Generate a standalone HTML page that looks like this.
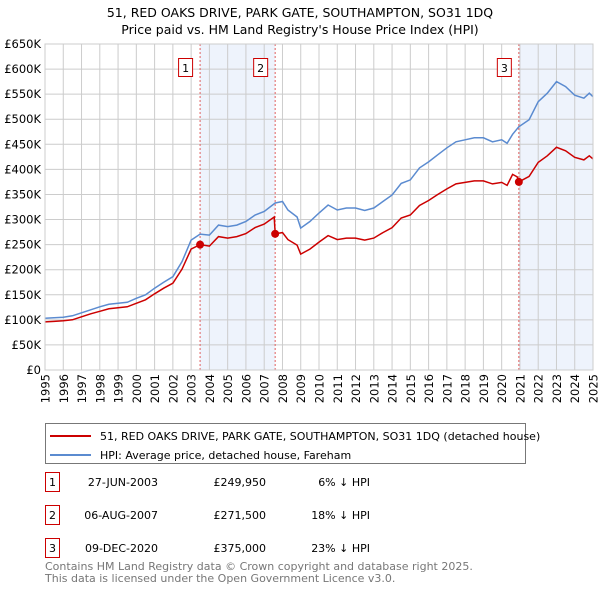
<!DOCTYPE html>
<html><head><meta charset="utf-8"><style>
body{margin:0;background:#fff;font-family:"Liberation Sans","DejaVu Sans",sans-serif;}
svg text{font-family:"DejaVu Sans","Liberation Sans",sans-serif;}
</style></head><body>
<svg id="chart" width="600" height="590" viewBox="0 0 600 590">
<text x="300" y="17" text-anchor="middle" font-size="12.5">51, RED OAKS DRIVE, PARK GATE, SOUTHAMPTON, SO31 1DQ</text>
<text x="300" y="34" text-anchor="middle" font-size="12.5">Price paid vs. HM Land Registry's House Price Index (HPI)</text>
<g id="plot"></g>
<g>
<rect x="45.5" y="423.5" width="480" height="40" fill="#fff" stroke="#777"/>
<line x1="50" y1="436" x2="91" y2="436" stroke="#cc0000" stroke-width="2"/>
<text x="100" y="440" font-size="11">51, RED OAKS DRIVE, PARK GATE, SOUTHAMPTON, SO31 1DQ (detached house)</text>
<line x1="50" y1="455" x2="91" y2="455" stroke="#5b8bd0" stroke-width="2"/>
<text x="100" y="459" font-size="11">HPI: Average price, detached house, Fareham</text>
</g>
<g font-size="11">
<rect x="45.5" y="472.5" width="14" height="19" fill="#fff" stroke="#cc0000"/>
<text x="52.5" y="486" text-anchor="middle">1</text>
<text x="158" y="486" text-anchor="end">27-JUN-2003</text>
<text x="266" y="486" text-anchor="end">£249,950</text>
<text x="370" y="486" text-anchor="end">6% ↓ HPI</text>
<rect x="45.5" y="505.5" width="14" height="19" fill="#fff" stroke="#cc0000"/>
<text x="52.5" y="519" text-anchor="middle">2</text>
<text x="158" y="519" text-anchor="end">06-AUG-2007</text>
<text x="266" y="519" text-anchor="end">£271,500</text>
<text x="370" y="519" text-anchor="end">18% ↓ HPI</text>
<rect x="45.5" y="538.5" width="14" height="19" fill="#fff" stroke="#cc0000"/>
<text x="52.5" y="552" text-anchor="middle">3</text>
<text x="158" y="552" text-anchor="end">09-DEC-2020</text>
<text x="266" y="552" text-anchor="end">£375,000</text>
<text x="370" y="552" text-anchor="end">23% ↓ HPI</text>
</g>
<text x="45" y="570" font-size="11" fill="#777">Contains HM Land Registry data © Crown copyright and database right 2025.</text>
<text x="45" y="582" font-size="11" fill="#777">This data is licensed under the Open Government Licence v3.0.</text>
</svg>
<script>
const hpiYears=[1995,1995.5,1996,1996.5,1997,1997.5,1998,1998.5,1999,1999.5,2000,2000.5,2001,2001.5,2002,2002.5,2003,2003.49,2004,2004.5,2005,2005.5,2006,2006.5,2007,2007.6,2008,2008.3,2008.8,2009,2009.5,2010,2010.5,2011,2011.5,2012,2012.5,2013,2013.5,2014,2014.5,2015,2015.5,2016,2016.5,2017,2017.5,2018,2018.5,2019,2019.5,2020,2020.3,2020.6,2020.94,2021.5,2022,2022.5,2023,2023.5,2024,2024.5,2024.8,2025];
const hpiValues=[103,104,105,108,114,120,126,131,133,135,143,150,163,175,186,216,259,271,269,289,286,289,296,309,316,333,336,319,305,283,296,313,329,319,323,323,318,323,336,349,372,379,403,415,429,443,455,459,463,463,455,459,452,470,485,499,535,552,575,565,548,542,552,545];
const priceYears=[1995,1995.5,1996,1996.5,1997,1997.5,1998,1998.5,1999,1999.5,2000,2000.5,2001,2001.5,2002,2002.5,2003,2003.49,2004,2004.5,2005,2005.5,2006,2006.5,2007,2007.55,2007.6,2008,2008.3,2008.8,2009,2009.5,2010,2010.5,2011,2011.5,2012,2012.5,2013,2013.5,2014,2014.5,2015,2015.5,2016,2016.5,2017,2017.5,2018,2018.5,2019,2019.5,2020,2020.3,2020.6,2020.85,2020.94,2021.5,2022,2022.5,2023,2023.5,2024,2024.5,2024.8,2025];
const priceValues=[96,97,98,100,106,112,117,122,124,126,133,140,152,163,173,201,241,250,247,266,263,266,272,284,291,305,271.5,274,260,249,231,241,255,268,260,263,263,259,263,274,284,303,309,328,338,350,361,371,374,377,377,371,374,368,390,385,375,386,414,427,444,437,424,419,427,421];
const saleYears=[2003.49,2007.6,2020.94];
const saleValues=[249.95,271.5,375];
const saleLabels=["1","2","3"];
const yTicks=[0,50,100,150,200,250,300,350,400,450,500,550,600,650];
const xTicks=[1995,1996,1997,1998,1999,2000,2001,2002,2003,2004,2005,2006,2007,2008,2009,2010,2011,2012,2013,2014,2015,2016,2017,2018,2019,2020,2021,2022,2023,2024,2025];

const L=45,R=593,T=44,B=370;
const xs=y=>L+(y-1995)/(2025-1995)*(R-L);
const ys=v=>B-v/650*(B-T);
const NS="http://www.w3.org/2000/svg";
const g=document.getElementById('plot');
function mk(tag,attrs,parent){const e=document.createElementNS(NS,tag);for(const k in attrs)e.setAttribute(k,attrs[k]);(parent||g).appendChild(e);return e;}

let sh=mk('rect',{x:xs(saleYears[0]),y:T,width:xs(saleYears[1])-xs(saleYears[0]),height:B-T,fill:'#eef3fc'});


let sh2=mk('rect',{x:xs(saleYears[2]),y:T,width:R-xs(saleYears[2]),height:B-T,fill:'#eef3fc'});



xTicks.forEach(t=>{
  let l=mk('line',{x1:xs(t),x2:xs(t),y1:T,y2:B,stroke:'#ccc','stroke-width':1});
  
  
  let tx=mk('text',{x:0,y:0,'text-anchor':'end','font-size':11.5,transform:'translate('+(xs(t)+4.5).toFixed(1)+','+(B+4)+') rotate(-90)'});
  tx.textContent=t;
  
  
});
yTicks.forEach(t=>{
  let l=mk('line',{x1:L,x2:R,y1:ys(t),y2:ys(t),stroke:'#ccc','stroke-width':1});
  
  
  let tx=mk('text',{x:L-4,y:ys(t)+4,'text-anchor':'end','font-size':11.5});
  tx.textContent='£'+t+(t?'K':'');
  
  
});

saleYears.forEach((y,i)=>{
  let l=mk('line',{x1:xs(y),x2:xs(y),y1:T,y2:B,stroke:'#e06060','stroke-width':1,'stroke-dasharray':'2,2'});
  
  
  let r=mk('rect',{x:xs(y)-21.5,y:58.5,width:14,height:18,fill:'#fff',stroke:'#cc0000'});
  
  
  let t=mk('text',{x:xs(y)-14.5,y:72,'text-anchor':'middle','font-size':11});
  t.textContent=saleLabels[i];
  
  
});

const hp=hpiYears.map((y,i)=>xs(y).toFixed(1)+','+ys(hpiValues[i]).toFixed(1)).join(' ');
let hl=mk('polyline',{points:hp,fill:'none',stroke:'#5b8bd0','stroke-width':1.5});


const pp=priceYears.map((y,i)=>xs(y).toFixed(1)+','+ys(priceValues[i]).toFixed(1)).join(' ');
let pl=mk('polyline',{points:pp,fill:'none',stroke:'#cc0000','stroke-width':1.5});


saleYears.forEach((y,i)=>{
  let c=mk('circle',{cx:xs(y),cy:ys(saleValues[i]),r:4,fill:'#cc0000'});
  
  
});
let ax=mk('rect',{x:L,y:T,width:R-L,height:B-T,fill:'none',stroke:'#ccc'});


</script>
</body></html>
